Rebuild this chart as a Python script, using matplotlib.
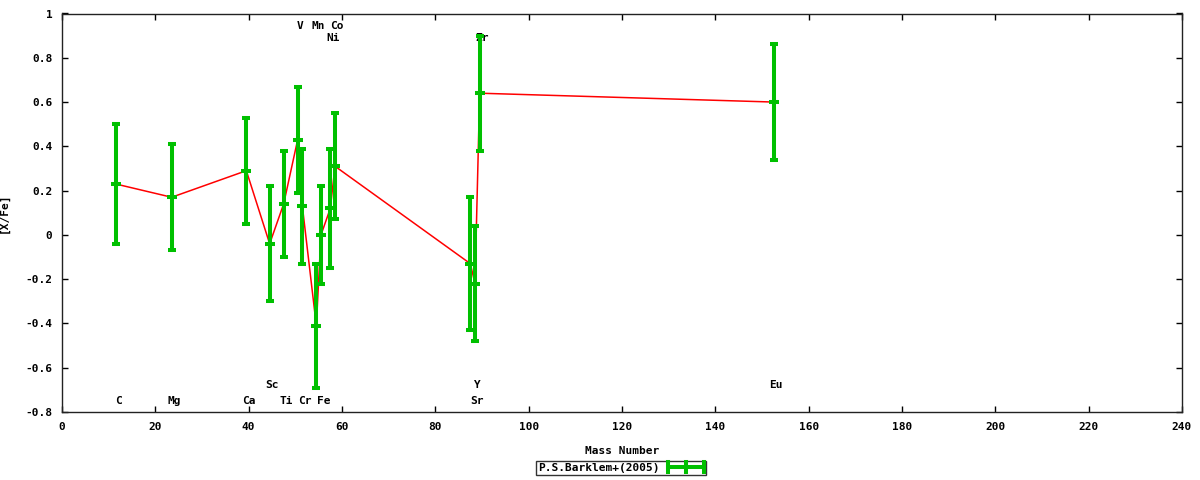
import matplotlib
matplotlib.use("Agg")
import matplotlib.pyplot as plt
from matplotlib.lines import Line2D
from matplotlib.legend_handler import HandlerBase

# ---- data ----
elements = ["C", "Mg", "Ca", "Sc", "Ti", "V", "Cr", "Mn", "Fe", "Ni", "Co", "Sr", "Y", "Zr", "Eu"]
mass = [12, 24, 40, 45, 48, 51, 52, 55, 56, 58, 59, 88, 89, 90, 153]
xfe = [0.23, 0.17, 0.29, -0.04, 0.14, 0.43, 0.13, -0.41, 0.00, 0.12, 0.31, -0.13, -0.22, 0.64, 0.60]
err = [0.27, 0.24, 0.24, 0.26, 0.24, 0.24, 0.26, 0.28, 0.22, 0.27, 0.24, 0.30, 0.26, 0.26, 0.26]

# element label positions (mass, y)
label_names = ["C", "Mg", "Ca", "Sc", "Ti", "Cr", "Fe", "V", "Mn", "Co", "Ni", "Y", "Sr", "Zr", "Eu"]
label_x = [12, 24, 40, 45, 48, 52, 56, 51, 55, 59, 58, 89, 89, 90, 153]
label_y = [-0.75, -0.75, -0.75, -0.68, -0.75, -0.75, -0.75, 0.945, 0.945, 0.945, 0.89, -0.68, -0.75, 0.89, -0.68]

legend_label = "P.S.Barklem+(2005)"
xticks = list(range(0, 241, 20))
yticks = [-0.8, -0.6, -0.4, -0.2, 0, 0.2, 0.4, 0.6, 0.8, 1]

GREEN = "#00c000"
FONT = dict(family="DejaVu Sans Mono", weight="bold", size=8)
XSHIFT = -0.5  # small rendering offset seen in the reference

fig = plt.figure(figsize=(12, 4.8), dpi=100)
ax = fig.add_axes([62 / 1200, 1 - 412 / 480, 1120 / 1200, 398.5 / 480])

xs = [m + XSHIFT for m in mass]
ax.plot(xs, xfe, color="red", lw=1.1, zorder=2)
ax.errorbar(xs, xfe, yerr=err, fmt="_", color=GREEN, ecolor=GREEN,
            elinewidth=2.9, capsize=3, capthick=2.9, markersize=7.5,
            markeredgewidth=2.9, zorder=3)

for n, lx, ly in zip(label_names, label_x, label_y):
    ax.text(lx, ly, n, ha="center", va="center", color="black", **FONT, zorder=1)

ax.set_xlim(0, 240)
ax.set_ylim(-0.8, 1)
ax.set_xticks(xticks)
ax.set_xticklabels([str(t) for t in xticks])
ax.set_yticks(yticks)
ax.set_yticklabels(["-0.8", "-0.6", "-0.4", "-0.2", "0", "0.2", "0.4", "0.6", "0.8", "1"])
ax.tick_params(direction="in", length=4, width=1, top=True, right=True, pad=7, colors="black")
for lab in ax.get_xticklabels() + ax.get_yticklabels():
    lab.set_fontfamily("DejaVu Sans Mono")
    lab.set_fontweight("bold")
    lab.set_fontsize(8)
for s in ax.spines.values():
    s.set_color("#222222")
    s.set_linewidth(1)

ax.set_xlabel("Mass Number", fontdict=FONT, labelpad=10)
ax.set_ylabel("[X/Fe]", fontdict=FONT, labelpad=12)


class ErrHandler(HandlerBase):
    def create_artists(self, legend, orig_handle, xdescent, ydescent, width, height, fontsize, trans):
        y = height / 2 - ydescent
        x0, x1 = -xdescent, -xdescent + width
        xm = (x0 + x1) / 2
        h = 3.5
        arts = [Line2D([x0, x1], [y, y], color=GREEN, lw=2.9)]
        for xx in (x0, xm, x1):
            arts.append(Line2D([xx, xx], [y - h, y + h], color=GREEN, lw=2.9))
        for a in arts:
            a.set_transform(trans)
        return arts


handle = Line2D([], [], color=GREEN)
leg = fig.legend([handle], [legend_label], handler_map={Line2D: ErrHandler()},
                 loc="center", bbox_to_anchor=(621 / 1200, 1 - 468 / 480),
                 markerfirst=False, frameon=True, fancybox=False,
                 prop=FONT, handlelength=3.2, handletextpad=0.8,
                 borderpad=0.2, borderaxespad=0)
leg.get_frame().set_edgecolor("black")
leg.get_frame().set_linewidth(1)

fig.savefig("out.png", dpi=100, facecolor="white")
